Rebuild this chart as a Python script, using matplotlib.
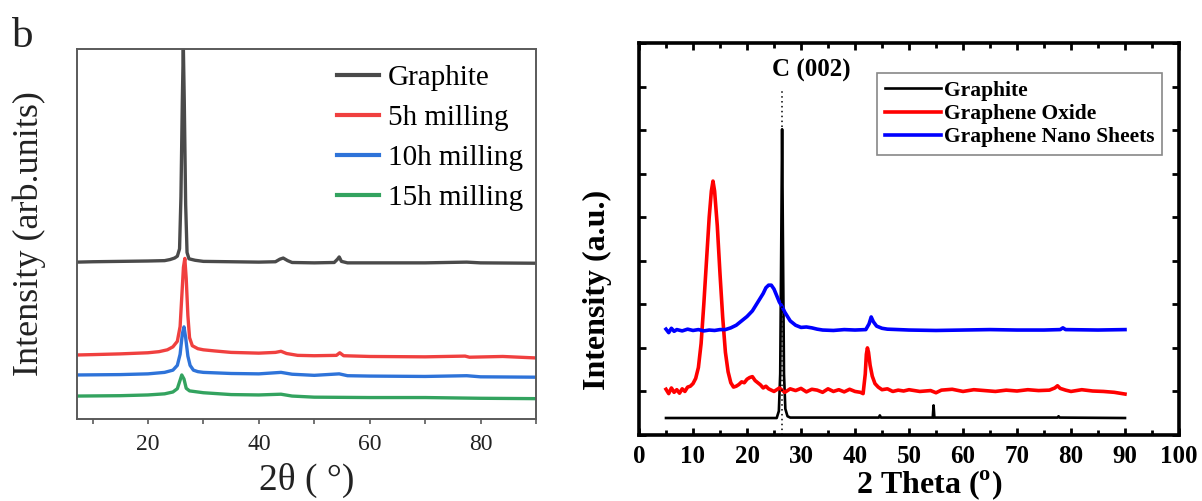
import matplotlib
matplotlib.use('Agg')
import matplotlib.pyplot as plt
from matplotlib.ticker import MultipleLocator, NullFormatter, NullLocator

plt.rcParams['font.family'] = ['Liberation Serif', 'DejaVu Serif']
plt.rcParams['mathtext.fontset'] = 'custom'
plt.rcParams['mathtext.rm'] = 'Liberation Serif'
plt.rcParams['mathtext.bf'] = 'Liberation Serif:bold'

# ---------------- Left panel data (offset intensities, arb. units) ----------------
left_labels = ["Graphite", "5h milling", "10h milling", "15h milling"]
left_colors = ["#4a4a4a", "#f0403f", "#2e73d9", "#33a35f"]

graphite_b = [(7.2, 42.4), (10, 42.5), (15, 42.6), (20, 42.7), (23, 42.8), (24, 43.1), (24.8, 43.5),
              (25.3, 44.0), (25.7, 46), (25.95, 60), (26.2, 86), (26.38, 101), (26.55, 86), (26.8, 58),
              (27.05, 45), (27.4, 43.3), (28.5, 42.9), (30, 42.6), (40, 42.4), (43, 42.5), (43.8, 43.2),
              (44.4, 43.5), (45.2, 42.8), (46, 42.3), (50, 42.2), (53.6, 42.3), (54.2, 43.2), (54.5, 43.8),
              (54.9, 42.6), (56, 42.2), (70, 42.2), (77.5, 42.4), (80, 42.2), (90, 42.1)]
mill5 = [(7.2, 17.3), (10, 17.4), (15, 17.6), (20, 17.9), (22, 18.2), (23.5, 18.7), (24.5, 19.5),
         (25.3, 21), (25.8, 25), (26.1, 33), (26.4, 41), (26.65, 43.4), (26.9, 38), (27.2, 28),
         (27.5, 22), (28, 19.8), (29, 19.0), (30, 18.7), (32, 18.4), (35, 18.0), (40, 17.8),
         (43, 18.0), (44, 18.3), (45, 17.7), (47, 17.2), (50, 17.1), (54, 17.2), (54.6, 17.9),
         (55.3, 17.1), (60, 16.9), (70, 16.8), (77.2, 17.0), (78, 16.7), (84, 16.9), (90, 16.5)]
mill10 = [(7.2, 11.9), (15, 12.0), (20, 12.2), (23, 12.6), (24.5, 13.2), (25.3, 14.5), (25.8, 17.5),
          (26.2, 23), (26.5, 24.9), (26.8, 22), (27.2, 17), (27.6, 14.5), (28.2, 13.2), (29, 12.8),
          (30, 12.6), (35, 12.3), (40, 12.2), (44, 12.6), (46, 12.1), (50, 11.8), (54.5, 12.2),
          (56, 11.7), (60, 11.6), (70, 11.5), (77.5, 11.7), (80, 11.4), (90, 11.3)]
mill15 = [(7.2, 6.2), (15, 6.3), (20, 6.5), (23, 6.8), (24.5, 7.3), (25.3, 8.2), (25.8, 10.5),
          (26.1, 11.9), (26.5, 10.8), (26.9, 8.3), (27.5, 7.6), (28.5, 7.4), (30, 7.1), (35, 6.6),
          (40, 6.5), (44, 6.7), (46, 6.2), (50, 5.9), (60, 5.8), (70, 5.8), (80, 5.6), (90, 5.5)]
left_series = [graphite_b, mill5, mill10, mill15]

# ---------------- Right panel data (offset intensities, a.u.) ----------------
right_labels = ["Graphite", "Graphene Oxide", "Graphene Nano Sheets"]
right_colors = ["#000000", "#ff0000", "#0000ff"]

graphite_r = [(5, 0.39), (25.5, 0.39), (25.9, 0.55), (26.15, 1.4), (26.35, 4.5), (26.5, 7.02),
              (26.65, 4.5), (26.85, 1.4), (27.1, 0.6), (27.5, 0.43), (28, 0.4), (44.4, 0.4),
              (44.6, 0.45), (44.8, 0.4), (54.4, 0.4), (54.55, 0.68), (54.7, 0.4), (77.5, 0.4),
              (77.7, 0.43), (77.9, 0.4), (90, 0.39)]
go = [(5, 1.05), (5.5, 0.95), (6, 1.08), (6.5, 0.98), (7, 1.04), (7.5, 0.96), (8, 1.06), (8.5, 1.0),
      (9, 1.1), (9.5, 1.12), (10, 1.18), (10.5, 1.3), (11, 1.55), (11.5, 2.1), (12, 3.0), (12.5, 4.0),
      (13, 5.0), (13.4, 5.6), (13.7, 5.83), (14, 5.6), (14.5, 4.8), (15, 3.7), (15.5, 2.7), (16, 1.9),
      (16.5, 1.45), (17, 1.2), (17.5, 1.1), (18, 1.12), (18.5, 1.16), (19, 1.22), (19.5, 1.2),
      (20, 1.28), (20.5, 1.32), (21, 1.34), (21.5, 1.25), (22, 1.2), (22.5, 1.15), (23, 1.08),
      (23.5, 1.12), (24, 1.06), (25, 1.0), (26, 1.08), (27, 0.98), (28, 1.06), (29, 1.02), (30, 1.07),
      (31, 0.99), (32, 1.05), (33, 1.03), (34, 0.98), (35, 1.06), (36, 1.0), (37, 1.04), (38, 0.99),
      (39, 1.05), (40, 1.0), (41, 0.98), (41.5, 0.95), (41.9, 1.4), (42.1, 1.85), (42.3, 2.0),
      (42.5, 1.9), (42.8, 1.6), (43.2, 1.35), (43.7, 1.18), (44.3, 1.1), (45, 1.04), (46, 1.06),
      (47, 1.0), (48, 1.03), (49, 1.01), (50, 1.04), (52, 1.0), (54, 1.02), (55, 0.97), (56, 1.03),
      (58, 1.05), (60, 1.0), (62, 1.04), (64, 1.02), (66, 1.0), (68, 1.03), (70, 1.01), (72, 1.04),
      (74, 1.02), (76, 1.03), (77, 1.08), (77.5, 1.13), (78, 1.07), (79, 1.03), (80, 1.0), (82, 1.04),
      (84, 1.01), (86, 1.0), (88, 0.98), (89, 0.96), (90, 0.94)]
gns = [(5, 2.43), (5.5, 2.35), (6, 2.45), (6.5, 2.38), (7, 2.42), (8, 2.39), (9, 2.43), (10, 2.4),
       (11, 2.42), (12, 2.39), (13, 2.41), (14, 2.4), (15, 2.42), (16, 2.42), (17, 2.46), (18, 2.52),
       (19, 2.62), (20, 2.72), (21, 2.85), (22, 3.05), (23, 3.25), (23.5, 3.38), (24, 3.44),
       (24.5, 3.44), (25, 3.35), (25.5, 3.2), (26, 3.05), (26.5, 2.95), (27, 2.82), (27.5, 2.72),
       (28, 2.62), (29, 2.52), (30, 2.47), (31, 2.48), (32, 2.46), (33, 2.43), (34, 2.41), (36, 2.4),
       (38, 2.42), (40, 2.41), (42, 2.42), (42.6, 2.55), (43, 2.71), (43.4, 2.6), (44, 2.5),
       (45, 2.45), (46, 2.43), (50, 2.41), (55, 2.4), (60, 2.41), (65, 2.42), (70, 2.41),
       (75, 2.41), (78, 2.42), (78.5, 2.46), (79, 2.42), (85, 2.41), (90, 2.42)]
right_series = [graphite_r, go, gns]
right_widths = [1.9, 2.6, 2.6]
peak_label = "C (002)"
peak_pos = 26.5

fig = plt.figure(figsize=(12.02, 5.01), dpi=100)
axL = fig.add_axes([77/1202, 82/501, 459/1202, 370/501])
axR = fig.add_axes([639/1202, 66/501, 540/1202, 392/501])

# ---------------- Left panel ----------------
for pts, lab, col in zip(left_series, left_labels, left_colors):
    xs, ys = zip(*pts)
    axL.plot(xs, ys, color=col, lw=2.4, label=lab, solid_joinstyle='round')
axL.set_xlim(7.2, 90)
axL.set_ylim(0, 100)
axL.xaxis.set_major_locator(MultipleLocator(20))
axL.xaxis.set_minor_locator(MultipleLocator(10))
axL.yaxis.set_major_locator(NullLocator())
for sp in axL.spines.values():
    sp.set_color('#5a5a5a')
    sp.set_linewidth(1.4)
axL.tick_params(axis='x', which='both', direction='out', length=3.5, width=1.2, color='#5a5a5a',
                labelsize=17, pad=7, labelcolor='#222222')
axL.set_xlabel("2θ ( °)", fontsize=27, color='#222222')
axL.xaxis.set_label_coords(0.5, -0.118)
axL.set_ylabel("Intensity (arb.units)", fontsize=26, color='#222222')
axL.yaxis.set_label_coords(-0.068, 0.5)
legL = axL.legend(loc='upper left', bbox_to_anchor=(0.566, 0.957), frameon=False, fontsize=21,
                  handlelength=1.45, handletextpad=0.3, labelspacing=0.46, borderpad=0, borderaxespad=0)
for line in legL.get_lines():
    line.set_linewidth(3)
fig.text(12/1202, 1 - 47/501, "b", fontsize=31, va='baseline', ha='left', color='#222222')

# ---------------- Right panel ----------------
for pts, lab, col, w in zip(right_series, right_labels, right_colors, right_widths):
    xs, ys = zip(*pts)
    axR.plot(xs, ys, color=col, lw=w, label=lab)
axR.axvline(peak_pos, ymin=0, ymax=(435 - 88) / 392, color='black', lw=1.1, ls=(0, (1, 2.2)))
axR.text(24.6, 8.38, peak_label, fontsize=18, fontweight='bold', ha='left', va='center')
axR.set_xlim(0, 100)
axR.set_ylim(0, 9)
axR.xaxis.set_major_locator(MultipleLocator(10))
axR.xaxis.set_minor_locator(MultipleLocator(5))
axR.yaxis.set_major_locator(MultipleLocator(1))
axR.yaxis.set_major_formatter(NullFormatter())
for sp in axR.spines.values():
    sp.set_linewidth(2.6)
axR.tick_params(which='both', direction='in', top=True, right=True, width=2.0)
axR.tick_params(which='major', length=5)
axR.tick_params(which='minor', length=3.5)
axR.tick_params(axis='x', labelsize=18, pad=7)
for t in axR.get_xticklabels():
    t.set_fontweight('bold')
axR.set_xlabel(r"2 Theta ($^{\mathbf{o}}$)", fontsize=23, fontweight='bold')
axR.xaxis.set_label_coords(0.537, -0.085)
axR.set_ylabel("Intensity (a.u.)", fontsize=23, fontweight='bold')
axR.yaxis.set_label_coords(-0.05, 0.37)
legR = axR.legend(loc='upper right', bbox_to_anchor=(0.9685, 0.923),
                  prop={'weight': 'bold', 'size': 15.5}, frameon=True, fancybox=False,
                  edgecolor='#888888', framealpha=1, handlelength=2.6, handletextpad=0.15,
                  labelspacing=0.15, borderpad=0.35, borderaxespad=0)
legR.get_frame().set_linewidth(1.2)

fig.savefig("out.png", dpi=100)
